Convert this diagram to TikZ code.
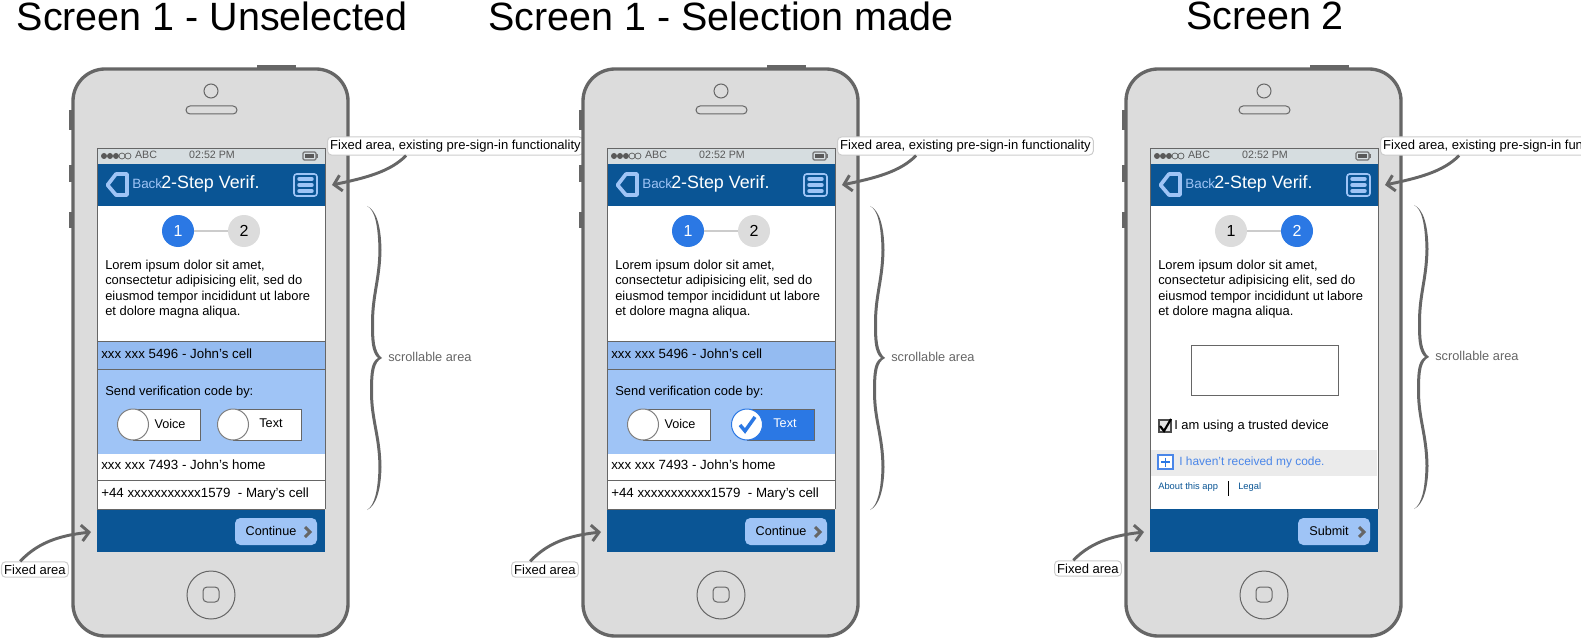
\documentclass[tikz,border=0pt]{standalone}
\usepackage{fontspec}
\setmainfont{Liberation Sans}
\usetikzlibrary{arrows.meta}
\definecolor{bodygray}{HTML}{DCDCDC}
\definecolor{framegray}{HTML}{666666}
\definecolor{barblue}{HTML}{0A5595}
\definecolor{paleblue}{HTML}{9FC4F6}
\definecolor{rowblue}{HTML}{94BBF1}
\definecolor{stepblue}{HTML}{2B78E4}
\definecolor{linkblue}{HTML}{4A86E8}
\definecolor{statusgray}{HTML}{D6DDE0}
\tikzset{
  plain text/.style={anchor=west,inner sep=0pt,font=\fontsize{9.7}{11.6}\selectfont},
  row text/.style={anchor=west,inner sep=0pt,font=\fontsize{10}{12}\selectfont},
  mid text/.style={anchor=center,inner sep=0pt,font=\fontsize{9.5}{11.6}\selectfont},
  small text/.style={anchor=center,inner sep=0pt,text=black!65,font=\fontsize{8}{9}\selectfont},
  step node/.style={circle,minimum size=24pt,inner sep=0pt,font=\fontsize{12}{14}\selectfont},
  note box/.style={anchor=west,fill=white,draw=black!20,rounded corners=3pt,line width=0.75pt,
    inner xsep=2pt,inner ysep=2.2pt,font=\fontsize{9.77}{11}\selectfont},
  note arrow/.style={draw=framegray,line width=2.2pt,-{Straight Barb[length=5.5pt,width=12pt,line width=2.2pt]}},
  frame line/.style={draw=framegray,line width=0.65pt},
  toggle dot/.style={draw=black!50,fill=white,line width=0.75pt},
}
% one phone: frame, bars, steps, text, notes
\newcommand{\phonebase}[5]{
  \fill[framegray] (257,65) rectangle (296,70);
  \fill[framegray] (69,110) rectangle (74,130);
  \fill[framegray] (69,165) rectangle (74,182);
  \fill[framegray] (69,212) rectangle (74,228);
  \draw[draw=framegray,fill=bodygray,line width=2.5pt,rounded corners=24pt] (73,69) rectangle (348,636);
  \draw[framegray,line width=0.75pt] (211,91) circle (7);
  \draw[framegray,line width=0.75pt,fill=bodygray,rounded corners=3pt] (186,106) rectangle (237,114);
  \draw[framegray,line width=0.75pt] (211,595) circle (24);
  \draw[framegray,line width=0.75pt,rounded corners=3pt] (203,587) rectangle (219,602);
  % screen
  \fill[white] (97,148) rectangle (325,552);
  \fill[statusgray] (97,148) rectangle (325,164);
  \fill[barblue] (97,164) rectangle (325,206);
  \fill[barblue] (97,509) rectangle (325,552);
  \draw[frame line] (97,509) -- (97,148) -- (325,148) -- (325,509);
  % status bar
  \foreach \dotx in {104,110,116}
    \fill[black!65] (\dotx,156) circle (3);
  \foreach \dotx in {122,128}
    \draw[black!65,line width=0.5pt] (\dotx,156) circle (3);
  \node[small text] (carrier) at (146,155) {ABC};
  \node[small text] (clock) at (212,155) {02:52 PM};
  \draw[black!55,line width=0.9pt,rounded corners=1pt] (303,152) rectangle (316,160);
  \fill[black!65] (305,154) rectangle (314,158);
  \fill[black!55] (316,154) rectangle (318,158);
  % header
  \draw[draw=paleblue,line width=2.8pt,line join=round] (127,174) -- (116,174) -- (107.5,185) -- (116,195) -- (127,195) -- cycle;
  \node[plain text,text=paleblue,font=\fontsize{10.1}{12}\selectfont] (backlabel) at (132,184) {Back};
  \node[plain text,text=white,font=\fontsize{13.4}{15}\selectfont] (headtitle) at (161,183.5) {2-Step Verif.};
  \draw[paleblue,line width=1.2pt,rounded corners=2pt] (294,174) rectangle (317,196);
  \foreach \bary in {179,185,191}
    \draw[paleblue,line width=2.6pt,line cap=round] (299,\bary) -- (312,\bary);
  % steps
  \node[step node,fill=#1,text=#2] (stepone) at (178,231) {1};
  \node[step node,fill=#3,text=#4] (steptwo) at (244,231) {2};
  \draw[black!20,line width=1.2pt] (stepone) -- (steptwo);
  \node[plain text,align=left] (lorem) at (105,289) {Lorem ipsum dolor sit amet,\\consectetur adipisicing elit, sed do\\eiusmod tempor incididunt ut labore\\et dolore magna aliqua.};
  % notes
  \node[note box] (topnote) at (327,146) {Fixed area, existing pre-sign-in functionality};
  \coordinate (toptip) at (332,185);
  \draw[note arrow] ([xshift=-37pt]topnote.south) .. controls (390,172) and (365,178) .. (toptip);
  \node[note box] (lownote) at (1,#5) {Fixed area};
  \coordinate (lowtip) at (91,532);
  \draw[note arrow] ([xshift=-11pt]lownote.north) .. controls (40,540) and (65,535) .. (lowtip);
}
% scrollable brace with its label
\newcommand{\phonebrace}[2]{
  \begin{scope}[shift={(#1,#2)}]
    \fill[framegray] (367,206) .. controls (376,210) and (381,225) .. (381.5,250)
      .. controls (381,280) and (374,295) .. (374,323) .. controls (374,338) and (374,352) .. (382,358)
      .. controls (374,362) and (373,372) .. (373,392) .. controls (373,420) and (381,435) .. (381.5,467)
      .. controls (381,490) and (376,506) .. (367,510)
      .. controls (375,505) and (378,490) .. (378.5,467) .. controls (378,435) and (370,420) .. (370,392)
      .. controls (370,372) and (371,362) .. (378,358) .. controls (371,352) and (371,338) .. (371,323)
      .. controls (371,295) and (378,280) .. (378.5,250) .. controls (378,225) and (375,210) .. (367,206) -- cycle;
    \node[plain text,text=framegray,font=\fontsize{9.6}{11}\selectfont] (scrolllabel) at (388,357) {scrollable area};
  \end{scope}
}
% footer button
\newcommand{\footbutton}[3]{
  \fill[paleblue,rounded corners=4pt] (#1,518) rectangle (317,545);
  \node[mid text] (footlabel) at (#2,530.5) {#3};
  \draw[framegray,line width=2.2pt] (305,527) -- (310,532) -- (305,537);
}
% phone list rows and toggles
\newcommand{\phonelist}{
  \fill[rowblue] (97,341) rectangle (325,369);
  \fill[paleblue] (97,369) rectangle (325,454);
  \draw[frame line] (97,341) -- (325,341);
  \draw[frame line] (97,369) -- (325,369);
  \draw[frame line] (97,480) -- (325,480);
  \draw[frame line] (97,509) -- (325,509);
  \draw[frame line] (97,341) -- (97,509);
  \draw[frame line] (325,341) -- (325,509);
  \node[row text] (rowone) at (101,354) {xxx xxx 5496 - John's cell};
  \node[plain text] (sendlabel) at (105,392) {Send verification code by:};
  \node[row text] (rowtwo) at (101,465) {xxx xxx 7493 - John's home};
  \node[row text] (rowthree) at (101,494.5) {+44 xxxxxxxxxxx1579 ~- Mary's cell};
  \draw[draw=framegray,fill=white,line width=0.65pt] (133,409) rectangle (200,440);
  \draw[toggle dot] (133,424.5) circle (15.5);
  \node[mid text] (voicelabel) at (170,423.5) {Voice};
}
\begin{document}
\begin{tikzpicture}[x=0.75pt,y=-0.75pt]
  \useasboundingbox (0,0) rectangle (1581,638);

  \node[anchor=center,inner sep=0pt,font=\fontsize{29.6}{34}\selectfont] (titleone) at (212,16) {Screen 1 - Unselected};
  \node[anchor=center,inner sep=0pt,font=\fontsize{29.6}{34}\selectfont] (titletwo) at (721,16) {Screen 1 - Selection made};
  \node[anchor=center,inner sep=0pt,font=\fontsize{29.6}{34}\selectfont] (titlethree) at (1265,16) {Screen 2};

  % first phone
  \begin{scope}[name prefix=a-]
    \phonebase{stepblue}{white}{bodygray}{black}{569.5}
    \phonebrace{0}{0}
    \phonelist
    \draw[draw=framegray,fill=white,line width=0.65pt] (233,409) rectangle (301,440);
    \draw[toggle dot] (233,424.5) circle (15.5);
    \node[mid text] (textlabel) at (271,423.5) {Text};
    \footbutton{235}{271}{Continue}
  \end{scope}

  % second phone
  \begin{scope}[shift={(510,0)},name prefix=b-]
    \phonebase{stepblue}{white}{bodygray}{black}{569.5}
    \phonebrace{-7}{0}
    \phonelist
    \draw[draw=framegray,fill=stepblue,line width=0.65pt] (237,409) rectangle (304,440);
    \draw[draw=stepblue,fill=white,line width=0.75pt] (237,424.5) circle (15.5);
    \draw[stepblue,line width=2.6pt] (230,425) -- (235,431) -- (245,417);
    \node[mid text,text=white] (textlabel) at (275,423.5) {Text};
    \footbutton{235}{271}{Continue}
  \end{scope}

  % third phone
  \begin{scope}[shift={(1053,0)},name prefix=c-]
    \phonebase{bodygray}{black}{stepblue}{white}{568.5}
    \phonebrace{-6}{-1}
    \draw[frame line] (97,509) -- (97,148);
    \draw[frame line] (325,509) -- (325,148);
    \draw[draw=framegray,fill=white,line width=0.7pt] (138,345) rectangle (285,395);
    \draw[draw=black!70,fill=black!10,line width=0.9pt] (106,420) rectangle (118,432);
    \draw[black,line width=1.6pt] (107,426) -- (111,431) -- (118,419);
    \node[plain text] (trustlabel) at (121,426.5) {I am using a trusted device};
    \fill[black!8] (98,450) rectangle (324,476);
    \draw[draw=linkblue,fill=white,line width=0.9pt] (105,455) rectangle (120,469);
    \draw[stepblue,line width=1.2pt] (112.5,457.5) -- (112.5,466.5) (108,462) -- (117,462);
    \node[plain text,text=linkblue,font=\fontsize{8.95}{11}\selectfont] (nocode) at (126,462) {I haven't received my code.};
    \node[plain text,text=barblue,font=\fontsize{7}{9}\selectfont] (aboutlink) at (105,487) {About this app};
    \draw[black,line width=0.6pt] (175,481) -- (175,496);
    \node[plain text,text=barblue,font=\fontsize{7}{9}\selectfont] (legallink) at (185,487) {Legal};
    \fill[paleblue,rounded corners=4pt] (245,518) rectangle (317,545);
    \node[mid text] (footlabel) at (276,530.5) {Submit};
    \draw[framegray,line width=2.2pt] (306,527) -- (311,532) -- (306,537);
  \end{scope}
\end{tikzpicture}
\end{document}
